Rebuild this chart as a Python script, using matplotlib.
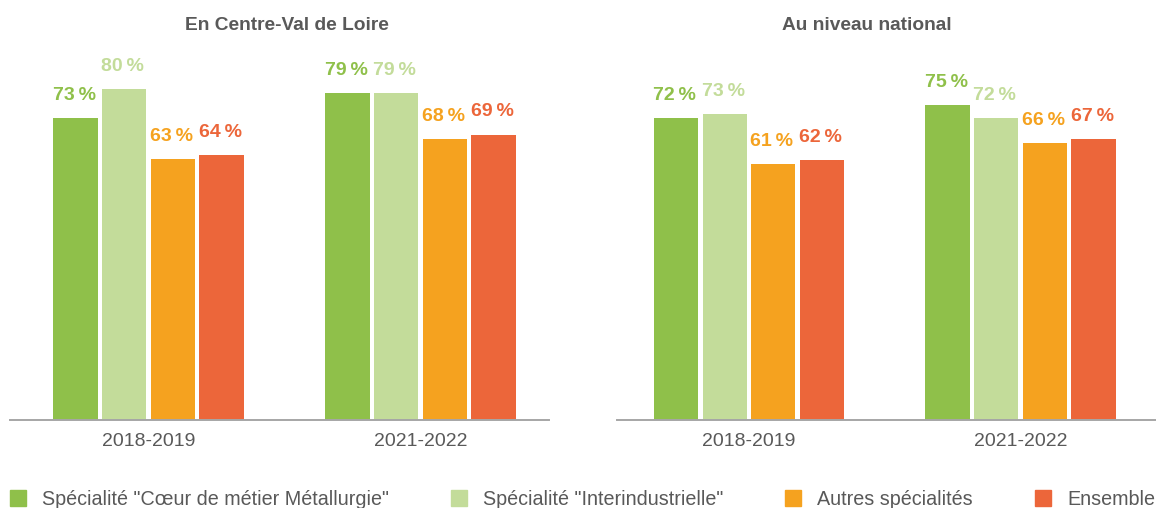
import matplotlib
matplotlib.use("Agg")
import matplotlib.pyplot as plt
from matplotlib.lines import Line2D
import numpy as np

plt.rcParams['font.family'] = ['Liberation Sans', 'DejaVu Sans']

periods = ["2018-2019", "2021-2022"]
series = ['Spécialité "Cœur de métier Métallurgie"',
          'Spécialité "Interindustrielle"',
          'Autres spécialités',
          'Ensemble']
colors = ["#8FC04A", "#C3DC9A", "#F5A21F", "#EC663A"]

titles = ["En Centre-Val de Loire", "Au niveau national"]
region_values = [[73, 79], [80, 79], [63, 68], [64, 69]]
national_values = [[72, 75], [73, 72], [61, 66], [62, 67]]
panel_values = [region_values, national_values]

W, H = 1156, 508
fig = plt.figure(figsize=(W / 100, H / 100), dpi=100)

base_px = 420
top_px = 40
ax_specs = [
    dict(x0=10, x1=549, px_per_unit=4.1375, xlim=(-0.509, 1.473), title_x=287),
    dict(x0=617, x1=1156, px_per_unit=4.196, xlim=(-0.486, 1.499), title_x=867),
]
text_grey = "#595959"
bar_w = 0.163
step = 0.179

for spec, title, vals in zip(ax_specs, titles, panel_values):
    ax = fig.add_axes([spec['x0'] / W, (H - base_px) / H,
                       (spec['x1'] - spec['x0']) / W, (base_px - top_px) / H])
    x = np.arange(len(periods))
    for i, (s, c) in enumerate(zip(series, colors)):
        offs = (i - 1.5) * step
        bars = ax.bar(x + offs, vals[i], width=bar_w, color=c, label=s, zorder=2)
        for b, v in zip(bars, vals[i]):
            ax.annotate(f"{v}\u2009%", (b.get_x() + b.get_width() / 2, v),
                        xytext=(-1, 13), textcoords="offset points",
                        ha="center", va="baseline", fontsize=14,
                        fontweight="bold", color=c)
    ax.set_xlim(*spec['xlim'])
    ax.set_ylim(0, (base_px - top_px) / spec['px_per_unit'])
    for sp in ["top", "right", "left"]:
        ax.spines[sp].set_visible(False)
    ax.spines["bottom"].set_color("#A6A6A6")
    ax.spines["bottom"].set_linewidth(1.4)
    ax.set_yticks([])
    ax.set_xticks(x)
    ax.set_xticklabels(periods, fontsize=14, color=text_grey)
    ax.tick_params(axis="x", length=0, pad=9)
    fig.text(spec['title_x'] / W, 1 - 25 / H, title, ha="center", va="center",
             fontsize=13.8, fontweight="bold", color=text_grey)

handles = [Line2D([], [], marker="s", linestyle="none", markersize=11.5,
                  markerfacecolor=c, markeredgecolor=c) for c in colors]
fs = 14.25
fig.legend(handles, series, loc="center left", bbox_to_anchor=(10 / W, 1 - 499.5 / H),
           ncol=4, frameon=False, fontsize=fs, labelcolor=text_grey,
           handletextpad=0.81, columnspacing=3.13, borderaxespad=0, borderpad=0,
           handlelength=0.81)

fig.savefig("out.png", dpi=100)
